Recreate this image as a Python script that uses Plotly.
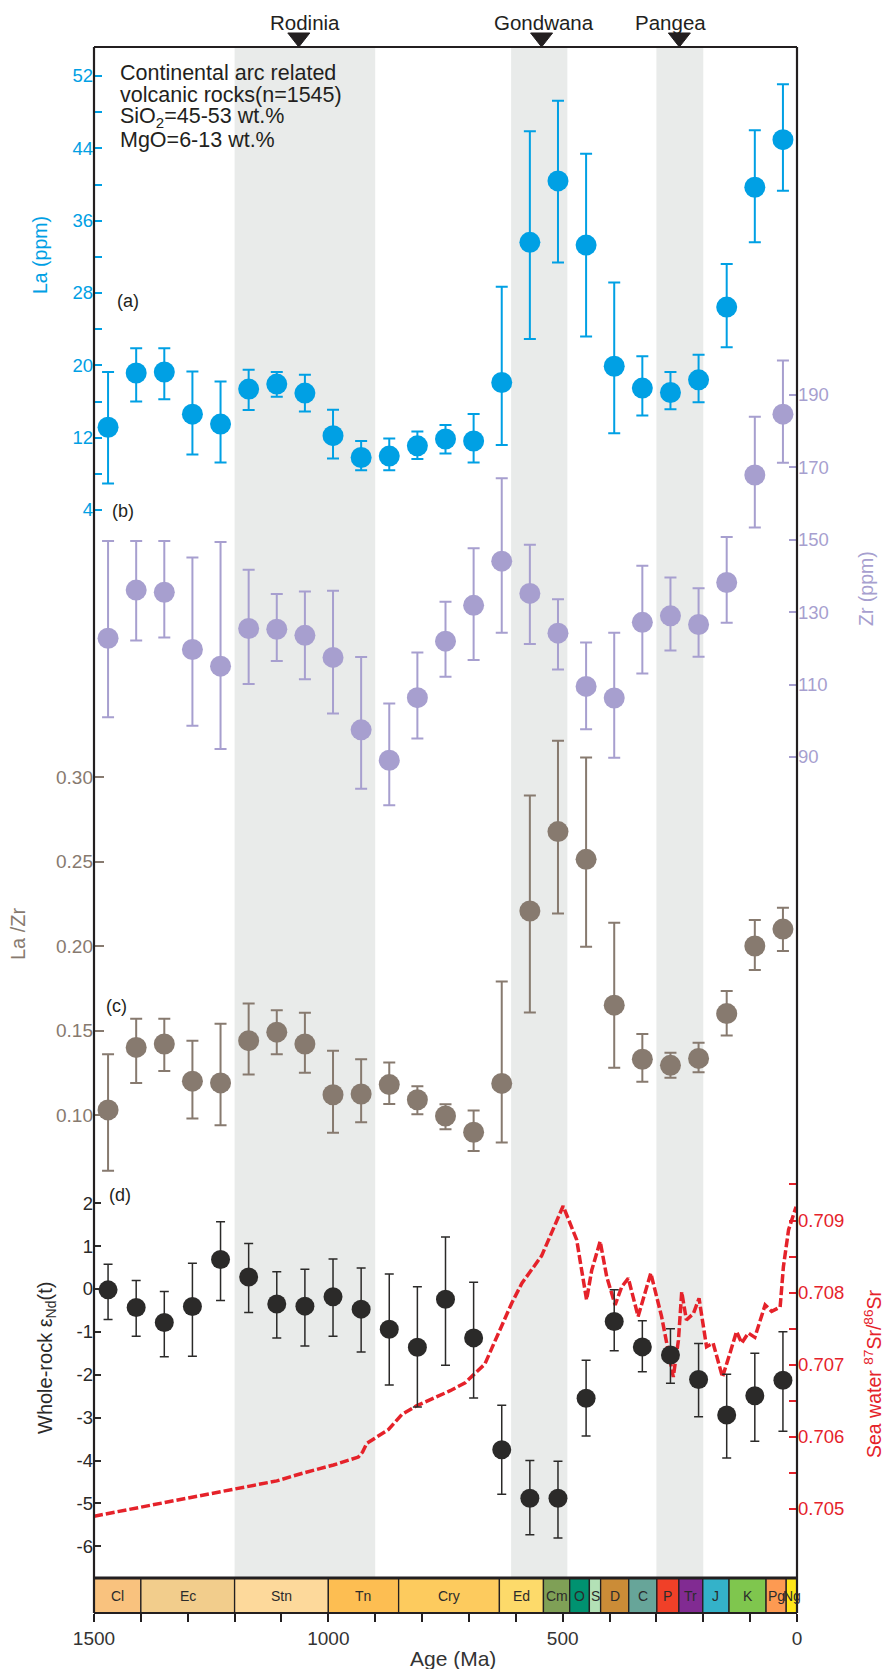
import plotly.graph_objects as go

# ---------------- data ----------------
ages = [1470, 1410, 1350, 1290, 1230, 1170, 1110, 1050, 990, 930, 870, 810, 750,
        690, 630, 570, 510, 450, 390, 330, 270, 210, 150, 90, 30]

la_mean = [13.15, 19.15, 19.26, 14.6, 13.5, 17.37, 17.93, 16.93, 12.22, 9.81, 9.96, 11.1, 11.85,
           11.63, 18.1, 33.6, 40.4, 33.3, 19.9, 17.48, 17.0, 18.4, 26.44, 39.7, 44.96]
la_upper = [19.26, 21.9, 21.9, 19.33, 18.2, 19.5, 19.26, 18.96, 15.1, 11.63, 11.9, 12.67, 13.4,
            14.63, 28.7, 45.9, 49.26, 43.4, 29.15, 21.0, 19.26, 21.18, 31.2, 46.0, 51.08]
la_lower = [6.93, 16.0, 16.26, 10.15, 9.26, 15.07, 16.52, 14.89, 9.7, 8.4, 8.4, 9.63, 10.26,
            9.26, 11.19, 22.9, 31.37, 23.2, 12.48, 14.44, 15.15, 15.93, 22.0, 33.6, 39.3]

zr_mean = [122.8, 136.1, 135.5, 119.7, 115.1, 125.5, 125.3, 123.6, 117.5, 97.5, 89.1, 106.4, 122.0,
           131.9, 144.1, 135.2, 124.2, 109.5, 106.3, 127.2, 129.0, 126.6, 138.2, 167.9, 184.7]
zr_upper = [149.7, 149.7, 149.7, 145.1, 149.4, 141.7, 135.0, 135.7, 135.9, 117.6, 104.8, 118.9, 132.9,
            147.7, 167.0, 148.6, 133.6, 121.6, 124.3, 142.8, 139.6, 136.6, 150.8, 184.0, 199.5]
zr_lower = [101.0, 122.2, 123.0, 98.6, 92.2, 110.2, 116.5, 111.5, 102.0, 81.2, 76.7, 95.1, 112.2,
            116.8, 124.3, 121.2, 114.2, 97.7, 89.8, 113.1, 119.4, 117.7, 127.1, 153.4, 171.3]

lazr_mean = [0.103, 0.140, 0.142, 0.120, 0.119, 0.144, 0.149, 0.142, 0.112, 0.1124, 0.118, 0.109, 0.0994,
             0.0898, 0.1187, 0.2207, 0.2677, 0.2513, 0.165, 0.133, 0.1294, 0.1335, 0.160, 0.200, 0.210]
lazr_upper = [0.136, 0.157, 0.157, 0.144, 0.154, 0.166, 0.162, 0.1605, 0.138, 0.133, 0.131, 0.117, 0.1063,
              0.1026, 0.179, 0.289, 0.3215, 0.3116, 0.2138, 0.148, 0.1369, 0.1428, 0.1734, 0.2154, 0.2227]
lazr_lower = [0.067, 0.119, 0.126, 0.098, 0.094, 0.124, 0.136, 0.125, 0.0895, 0.0957, 0.1065, 0.1004, 0.0915,
              0.0787, 0.0838, 0.1607, 0.2193, 0.1996, 0.128, 0.1197, 0.122, 0.1253, 0.147, 0.1858, 0.197]

end_mean = [-0.02, -0.43, -0.78, -0.41, 0.69, 0.28, -0.35, -0.40, -0.18, -0.47, -0.94, -1.36, -0.24,
            -1.14, -3.75, -4.88, -4.88, -2.55, -0.76, -1.35, -1.54, -2.11, -2.94, -2.49, -2.13]
end_upper = [0.58, 0.20, -0.06, 0.60, 1.57, 1.06, 0.40, 0.46, 0.70, 0.49, 0.35, 0.05, 1.21,
             0.16, -2.71, -4.0, -4.02, -1.66, -0.02, -0.74, -0.93, -1.27, -1.99, -1.50, -1.0]
end_lower = [-0.71, -1.10, -1.58, -1.57, -0.27, -0.55, -1.14, -1.33, -1.10, -1.47, -2.24, -2.75, -1.78,
             -2.54, -4.79, -5.73, -5.81, -3.43, -1.44, -1.93, -2.20, -2.98, -3.94, -3.55, -3.32]

sr_age = [1500, 1197, 1110, 1053, 989, 936, 927, 918, 897, 872, 843, 812, 740, 708, 666, 627, 609,
          587, 545, 499, 470, 463, 449, 438, 420, 406, 388, 374, 360, 339, 312, 289, 264, 253,
          246, 236, 221, 209, 193, 179, 159, 143, 129, 118, 104, 90, 68, 54, 36, 29, 18, 2]
sr_val = [0.70490, 0.70529, 0.70539, 0.70550, 0.70561, 0.70572, 0.70579, 0.70591, 0.70600, 0.70610,
          0.70631, 0.70643, 0.70664, 0.70675, 0.70701, 0.70757, 0.70785, 0.70813, 0.70851, 0.70920,
          0.70873, 0.70845, 0.70790, 0.70831, 0.70871, 0.70822, 0.70783, 0.70808, 0.70820, 0.70767,
          0.70827, 0.70767, 0.70683, 0.70734, 0.70801, 0.70762, 0.70771, 0.70792, 0.70725, 0.70730,
          0.70683, 0.70716, 0.70746, 0.70730, 0.70744, 0.70738, 0.70783, 0.70774, 0.70780, 0.70836,
          0.70887, 0.70919]

# geological time scale
period_names = ["Cl", "Ec", "Stn", "Tn", "Cry", "Ed", "Cm", "O", "S", "D", "C", "P", "Tr", "J", "K", "Pg", "Ng"]
period_start = [1500, 1400, 1200, 1000, 850, 635, 541, 485, 443, 419, 359, 299, 252, 201, 145, 66, 23]
period_end = [1400, 1200, 1000, 850, 635, 541, 485, 443, 419, 359, 299, 252, 201, 145, 66, 23, 0]
period_colors = ["#F9C27E", "#F2CD8C", "#FDD99B", "#FDBE52", "#FDCB5E", "#FDDA6A", "#7FA056",
                 "#009270", "#B3E1B6", "#CB8C37", "#67A599", "#F04028", "#812B92", "#34B2C9",
                 "#7FC64E", "#FD9A52", "#FFE619"]

# supercontinents
sc_names = ["Rodinia", "Gondwana", "Pangea"]
sc_start = [1200, 610, 300]
sc_end = [900, 490, 200]
sc_marker_age = [1063, 545, 251]
sc_label_age = [1050, 540, 269]

# ---------------- layout helpers ----------------
# positions below are screen pixels; the page body adds an 8px margin around the figure
BODY = 8
SCREEN_W, SCREEN_H = 892, 1677
W, H = SCREEN_W - 2 * BODY, SCREEN_H - 2 * BODY
PL, PR, PT, PB = 94, 797, 47, 1613
X_MIN, X_MAX = 1500, 0
MA_PER_PX = (X_MIN - X_MAX) / (PR - PL)


def fx(x):
    return (x - PL) / (PR - PL)


def fy(y):
    return (PB - y) / (PB - PT)


def axis_range(v_ref, y_ref, px_per_unit):
    return [v_ref - (PB - y_ref) / px_per_unit, v_ref + (y_ref - PT) / px_per_unit]


FONT = "Liberation Sans, Arial, sans-serif"
C_LA = "#00A0E4"
C_ZR = "#A79FCF"
C_LAZR = "#877A6F"
C_END = "#2B2A29"
C_SR = "#E5222A"
C_TXT = "#231F20"

LA_CAL = (28, 293, 9.042)


def errs(mean, up, lo):
    return [u - m for u, m in zip(up, mean)], [m - l for m, l in zip(mean, lo)]


fig = go.Figure()

# La
e_up, e_lo = errs(la_mean, la_upper, la_lower)
fig.add_trace(go.Scatter(x=ages, y=la_mean, mode="markers", yaxis="y",
                         marker=dict(size=21, color=C_LA),
                         error_y=dict(type="data", array=e_up, arrayminus=e_lo, color=C_LA,
                                      thickness=2, width=6),
                         showlegend=False))
# Zr
e_up, e_lo = errs(zr_mean, zr_upper, zr_lower)
fig.add_trace(go.Scatter(x=ages, y=zr_mean, mode="markers", yaxis="y2",
                         marker=dict(size=21, color=C_ZR),
                         error_y=dict(type="data", array=e_up, arrayminus=e_lo, color=C_ZR,
                                      thickness=2, width=6),
                         showlegend=False))
# La/Zr
e_up, e_lo = errs(lazr_mean, lazr_upper, lazr_lower)
fig.add_trace(go.Scatter(x=ages, y=lazr_mean, mode="markers", yaxis="y3",
                         marker=dict(size=21, color=C_LAZR),
                         error_y=dict(type="data", array=e_up, arrayminus=e_lo, color=C_LAZR,
                                      thickness=2, width=6),
                         showlegend=False))
# Sr curve
fig.add_trace(go.Scatter(x=sr_age, y=sr_val, mode="lines", yaxis="y4",
                         line=dict(color=C_SR, width=3.5, dash="9px,3px"),
                         showlegend=False))
# eNd
e_up, e_lo = errs(end_mean, end_upper, end_lower)
fig.add_trace(go.Scatter(x=ages, y=end_mean, mode="markers", yaxis="y5",
                         marker=dict(size=19, color=C_END),
                         error_y=dict(type="data", array=e_up, arrayminus=e_lo, color=C_END,
                                      thickness=1.5, width=4.5),
                         showlegend=False))

shapes = []
# shaded supercontinent intervals
for s, e in zip(sc_start, sc_end):
    shapes.append(dict(type="rect", xref="x", yref="paper", x0=s, x1=e, y0=fy(1578), y1=1,
                       fillcolor="#E9EBEA", line=dict(width=0), layer="below"))
# time scale
for s, e, c in zip(period_start, period_end, period_colors):
    shapes.append(dict(type="rect", xref="x", yref="paper", x0=s, x1=e, y0=0, y1=fy(1578),
                       fillcolor=c, line=dict(color=C_TXT, width=1.3), layer="above"))
shapes.append(dict(type="line", xref="paper", yref="paper", x0=0, x1=1, y0=fy(1578), y1=fy(1578),
                   line=dict(color=C_TXT, width=3), layer="above"))
# frame (four sides)
for x0, y0, x1, y1 in [(0, 0, 1, 0), (0, 1, 1, 1), (0, 0, 0, 1), (1, 0, 1, 1)]:
    shapes.append(dict(type="line", xref="paper", yref="paper", x0=x0, y0=y0, x1=x1, y1=y1,
                       line=dict(color=C_TXT, width=2.2), layer="above"))
# supercontinent triangles above the frame
half_w = 11 * MA_PER_PX
for a in sc_marker_age:
    path = "M %.3f %.6f L %.3f %.6f L %.3f %.6f Z" % (a + half_w, fy(33), a - half_w, fy(33), a, fy(47))
    shapes.append(dict(type="path", xref="x", yref="paper", path=path, fillcolor=C_TXT,
                       line=dict(color=C_TXT, width=1), layer="above"))

ann = []
for n, s, e in zip(period_names, period_start, period_end):
    ann.append(dict(x=(s + e) / 2, y=fy(1596), xref="x", yref="paper", text=n, showarrow=False,
                    font=dict(family=FONT, size=14, color="#2b2b2b"), xanchor="center", yanchor="middle"))
for n, a in zip(sc_names, sc_label_age):
    ann.append(dict(x=a, y=fy(22), xref="x", yref="paper", text=n, showarrow=False,
                    font=dict(family=FONT, size=20.5, color=C_TXT), xanchor="center", yanchor="middle"))

info_lines = ["Continental arc related", "volcanic rocks(n=1545)",
              "SiO<sub>2</sub>=45-53 wt.%", "MgO=6-13 wt.%"]
for i, t in enumerate(info_lines):
    ann.append(dict(x=fx(118), y=fy(73 + 22.4 * i), xref="paper", yref="paper", text=t, showarrow=False,
                    font=dict(family=FONT, size=21.5, color=C_TXT), xanchor="left", yanchor="middle"))

for lab, xx, yy in [("(a)", 115, 301), ("(b)", 110, 511), ("(c)", 104, 1006), ("(d)", 107, 1195)]:
    ann.append(dict(x=fx(xx), y=fy(yy), xref="paper", yref="paper", text=lab, showarrow=False,
                    font=dict(family=FONT, size=18, color=C_TXT), xanchor="left", yanchor="middle"))

titles = [("La (ppm)", 40, 255, C_LA, 19.5),
          ("Zr (ppm)", 866, 588, C_ZR, 19.5),
          ("La /Zr", 18, 934, C_LAZR, 20),
          ("Whole-rock ε<sub>Nd</sub>(t)", 46, 1358, C_END, 20),
          ("Sea water <sup>87</sup>Sr/<sup>86</sup>Sr", 873, 1374, C_SR, 19.5)]
for t, xx, yy, c, sz in titles:
    ann.append(dict(x=fx(xx), y=fy(yy), xref="paper", yref="paper", text=t, showarrow=False,
                    textangle=-90, font=dict(family=FONT, size=sz, color=c),
                    xanchor="center", yanchor="middle"))
ann.append(dict(x=fx(453), y=fy(1658), xref="paper", yref="paper", text="Age (Ma)", showarrow=False,
                font=dict(family=FONT, size=21, color="#333333"), xanchor="center", yanchor="middle"))

# ticks
la_ticks = list(range(4, 53, 4))
la_text = [str(v) if (v - 4) % 8 == 0 else "" for v in la_ticks]
zr_ticks = [90, 110, 130, 150, 170, 190]
lazr_ticks = [0.10, 0.15, 0.20, 0.25, 0.30]
end_ticks = list(range(-6, 3))
sr_ticks = [0.705 + 0.0005 * i for i in range(10)]
sr_text = ["%.3f" % v if i % 2 == 0 else "" for i, v in enumerate(sr_ticks)]
x_ticks = list(range(0, 1501, 100))
x_text = [str(v) if v % 500 == 0 else "" for v in x_ticks]


def yax(rng, tv, tt, color, side, ticklen, tickwidth, overlay=True, size=18.5):
    d = dict(range=rng, domain=[0, 1], anchor="x", side=side, tickmode="array", tickvals=tv,
             ticktext=tt, ticks="inside", ticklen=ticklen, tickwidth=tickwidth, tickcolor=color,
             tickfont=dict(family=FONT, size=size, color=color), showgrid=False, zeroline=False,
             showline=False, fixedrange=True)
    if overlay:
        d["overlaying"] = "y"
    return d


fig.update_layout(
    width=W, height=H,
    margin=dict(l=PL - BODY, r=W - (PR - BODY), t=PT - BODY, b=H - (PB - BODY), pad=0),
    paper_bgcolor="white", plot_bgcolor="white",
    showlegend=False,
    xaxis=dict(range=[X_MIN, X_MAX], domain=[0, 1], tickmode="array", tickvals=x_ticks, ticktext=x_text,
               ticks="outside", ticklen=8, tickwidth=2, tickcolor=C_TXT, showline=False,
               showgrid=False, zeroline=False, fixedrange=True,
               tickfont=dict(family=FONT, size=19, color="#333333")),
    yaxis=yax(axis_range(*LA_CAL), la_ticks, la_text, C_LA, "left", 8, 2, overlay=False),
    yaxis2=yax(axis_range(190, 395, 3.62), zr_ticks, [str(v) for v in zr_ticks], C_ZR, "right", 8, 2),
    yaxis3=yax(axis_range(0.30, 777, 1690), lazr_ticks, ["%.2f" % v for v in lazr_ticks], C_LAZR,
               "left", 10, 2, size=19),
    yaxis4=yax(axis_range(0.709, 1220.5, 72125), sr_ticks, sr_text, C_SR, "right", 8, 2),
    yaxis5=yax(axis_range(0, 1289, 42.875), end_ticks, [str(v) for v in end_ticks], C_END, "left", 7, 1.5),
    shapes=shapes,
    annotations=ann,
)

fig.write_html("out.html")
